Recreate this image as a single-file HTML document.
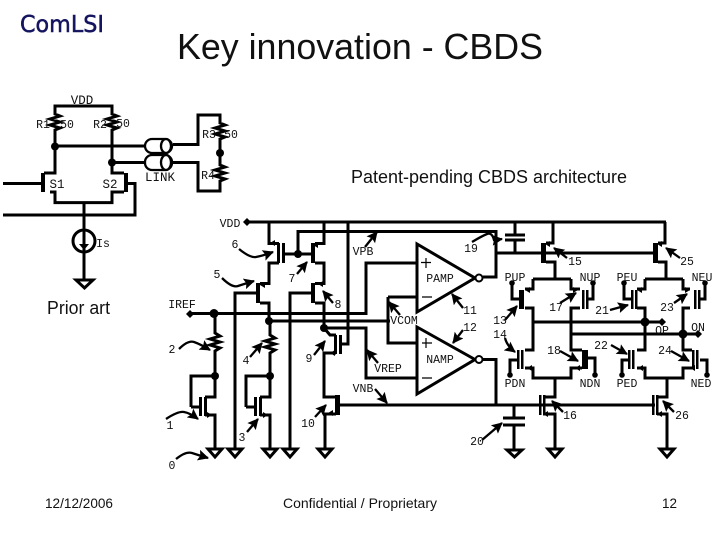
<!DOCTYPE html>
<html><head><meta charset="utf-8"><style>
html,body{margin:0;padding:0;background:#fff}
svg{display:block}
.w{fill:none;stroke:#000;stroke-width:3;stroke-linejoin:miter}
.a{fill:none;stroke:#000;stroke-width:2.300;marker-end:url(#h)}
.t{font:500 11.5px "Liberation Mono",monospace;fill:#111;text-anchor:middle}
.s{font:12.5px "Liberation Mono",monospace;fill:#111;text-anchor:middle}
.h{font-family:"Liberation Sans",sans-serif;fill:#111}
</style></head><body>
<svg width="720" height="540" viewBox="0 0 720 540" xmlns="http://www.w3.org/2000/svg">
<defs><marker id="h" markerUnits="userSpaceOnUse" markerWidth="13" markerHeight="12" refX="10" refY="5.500" orient="auto"><path d="M0 0L11 5.500L0 11L2 5.500z" fill="#000"/></marker></defs>
<rect width="720" height="540" fill="#fff"/>
<text x="20" y="32" style="font:23px 'DejaVu Sans',sans-serif;fill:#14145f;stroke:#14145f;stroke-width:.5" textLength="84" lengthAdjust="spacingAndGlyphs">ComLSI</text>
<text class="h" x="177" y="59" font-size="36" textLength="366" lengthAdjust="spacingAndGlyphs">Key innovation - CBDS</text>
<text class="h" x="351" y="183" font-size="18" textLength="276" lengthAdjust="spacingAndGlyphs">Patent-pending CBDS architecture</text>
<text class="h" x="47" y="314" font-size="18" textLength="63" lengthAdjust="spacingAndGlyphs">Prior art</text>
<text class="h" x="45" y="508" font-size="14" textLength="68" lengthAdjust="spacingAndGlyphs">12/12/2006</text>
<text class="h" x="283" y="508" font-size="14" textLength="154" lengthAdjust="spacingAndGlyphs">Confidential / Proprietary</text>
<text class="h" x="662" y="508" font-size="14" textLength="15" lengthAdjust="spacingAndGlyphs">12</text>

<!-- prior art -->
<path class="w" d="M55 146V130l5-2-10-3 10-3-10-3 10-3-5-2V106H112V114l5 2-10 3 10 3-10 3 10 3-5 2V173H124M55 146V173H44M3 183.500H41M50 192H55V202.600H112V192H124M135 183.500H128M135 182V215H3M84 202.600V280M173 144.500H198V115H220V123l5 2-10 3 10 3-10 3 10 3-5 2V165l5 2-10 3 10 3-10 3 10 3-5 2V191H198V162.500H173M55 146H145M112 162.500H145"/>
<rect x="41" y="173" width="4" height="19"/><rect x="124" y="173" width="4" height="19"/>
<circle cx="55" cy="146.500" r="4"/><circle cx="112" cy="162.500" r="4"/><circle cx="220" cy="153" r="4"/>
<g fill="#fff" stroke="#000" stroke-width="2.300"><rect x="145" y="139" width="27" height="14" rx="7"/><rect x="145" y="155" width="27" height="15" rx="7"/><ellipse cx="166" cy="146" rx="5" ry="7"/><ellipse cx="166" cy="162.500" rx="5" ry="7.500"/></g>
<circle cx="84" cy="241" r="11" class="w"/>
<path d="M79 244h10l-5 6z"/><path d="M76 280H93L84.500 288z" class="w" fill="none"/>
<text class="s" x="82" y="104">VDD</text><text class="t" x="43" y="128">R1</text><text class="t" x="67" y="128">50</text><text class="t" x="100" y="128">R2</text><text class="t" x="123" y="127">50</text><text class="t" x="209" y="138">R3</text><text class="t" x="231" y="138">50</text><text class="t" x="208" y="179">R4</text><text class="s" x="57" y="188">S1</text><text class="s" x="110" y="188">S2</text><text class="s" x="160" y="181">LINK</text><text class="t" x="103" y="247">Is</text>

<!-- bias rails -->
<path class="w" d="M247 222H666"/><path d="M243 222l4-4 4 4-4 4z"/><text class="t" x="230" y="227">VDD</text>
<path class="w" d="M269 222V243.500H279M279 263H269V283.500H260M260 303H269V321M324 222V243.500H315M311 254H283M315 263H324V283.500H315M315 303H324V328M311 293H290V448M256 293H235V448M348 222V344H340M298 254V231.500H496V277H483M496 253H541M515 222V235M515 240V253M505 235H525M505 240H525"/>
<rect x="277" y="243" width="3" height="20"/><rect x="282" y="243" width="3" height="20"/><rect x="311" y="243" width="4" height="20"/><rect x="256" y="283" width="4" height="20"/><rect x="311" y="283" width="4" height="20"/>
<circle cx="298" cy="254" r="4"/>
<path class="w" d="M190 313.500H366V263H417M269 321H390M388 297H417M388 297V343H417M324 328H366V378H417"/>
<path d="M186 314l4-4 4 4-4 4z"/><circle cx="214" cy="313.500" r="4.500"/><circle cx="269" cy="321" r="4"/><circle cx="324" cy="328" r="4"/>
<!-- left legs -->
<path class="w" d="M215 314V333l5 3-10 3 10 3-10 3 10 3-5 3V397H205M205 415H215V448M191 407V376H215M191 407H200M270 321V335l5 3-10 3 10 3-10 3 10 3-5 3V397H260M260 415H270V448M246 407V376H270M246 407H255"/>
<rect x="199" y="397" width="3" height="19"/><rect x="204" y="397" width="3" height="19"/><rect x="254" y="397" width="3" height="19"/><rect x="259" y="397" width="3" height="19"/>
<circle cx="215" cy="376" r="4"/><circle cx="270" cy="376" r="4"/>
<path class="w" d="M324 328L330 335H336M336 353H324V397H336M336 414H325V448"/>
<rect x="334" y="335" width="3" height="19"/><rect x="339" y="335" width="3" height="19"/><rect x="335" y="395" width="5" height="20"/>
<path class="w" d="M340 405H540"/>
<!-- amps -->
<path class="w" d="M417 244V312L475 278zM417 327V394L475 359.500z" fill="#fff"/>
<circle cx="479" cy="278" r="3.500" fill="#fff" stroke="#000" stroke-width="2"/><circle cx="479" cy="359.500" r="3.500" fill="#fff" stroke="#000" stroke-width="2"/>
<path class="w" d="M483 359.500H496V405"/>
<path d="M421 262.500h10M426 258v10M422 297h10M422 343h10M426 338v10M422 378h10" stroke="#000" stroke-width="1.200" fill="none"/>
<text class="t" x="440" y="282">PAMP</text><text class="t" x="440" y="363">NAMP</text>
<!-- ground + cap -->
<path class="w" d="M514 405V418M503 418H525M503 425H525M514 425V450"/>
<path class="w" d="M208 449H222L215 457zM228 449H242L235 457zM263 449H277L270 457zM283 449H297L290 457zM318 449H332L325 457zM507 450H522L514.500 457zM548 449H562L555 457zM660 449H674L667 457z"/>
<!-- output stage -->
<path class="w" d="M553 222V243H546M546 262H555V279M496 253H653M533 279H571M533 279V289H525M525 308H533V350H525M519 299H512V284M571 279V289H580M580 308H571V350H582M587 299H593V284M525 368H533V378H571V368H582M588 358H595V375M555 378V397H543M543 414H555V448M533 322H662M571 334H698"/>
<rect x="541" y="243" width="5" height="20"/><rect x="519" y="290" width="5" height="19"/><rect x="582" y="290" width="2.500" height="19"/><rect x="586" y="290" width="2.500" height="19"/><rect x="517" y="350" width="2.500" height="19"/><rect x="521" y="350" width="2.500" height="19"/><path class="w" d="M510 375V360H517"/><rect x="582" y="350" width="6" height="19"/><rect x="539" y="395" width="2.500" height="20"/><rect x="543" y="395" width="2.500" height="20"/>
<path class="w" d="M665 222V243H658M658 262H666V279M645 279H683M645 279V289H637M637 308H645V350H637M632 299H624V284M683 279V289H690M690 308H683V350H692M698 299H705V284M637 368H645V378H683V368H692M700 360H707V375M667 378V397H657M657 414H667V448M540 405H655"/>
<rect x="653" y="243" width="5" height="20"/><rect x="631" y="290" width="2.500" height="19"/><rect x="635" y="290" width="2.500" height="19"/><rect x="694" y="290" width="2.500" height="19"/><rect x="698" y="290" width="2.500" height="19"/><rect x="628" y="350" width="2.500" height="19"/><rect x="632" y="350" width="2.500" height="19"/><rect x="692" y="350" width="2.500" height="19"/><rect x="696" y="350" width="2.500" height="19"/><rect x="652" y="395" width="2.500" height="20"/><rect x="656" y="395" width="2.500" height="20"/>
<path class="w" d="M629 360H622V375"/>
<circle cx="512" cy="283" r="2.800"/><circle cx="593" cy="283" r="2.800"/><circle cx="624" cy="283" r="2.800"/><circle cx="705" cy="283" r="2.800"/><circle cx="510" cy="375" r="2.800"/><circle cx="595" cy="375" r="2.800"/><circle cx="622" cy="375" r="2.800"/><circle cx="707" cy="375" r="2.800"/>
<circle cx="645" cy="322" r="4.500"/><circle cx="683" cy="334" r="4.500"/><path d="M658 322l4-4 4 4-4 4zM694 334l4-4 4 4-4 4z"/>
<!-- device arrows -->
<path d="M270 243l5-3v6zM313 245l5-3v6zM260 285l5-3v6zM318 284l5-3v6zM212 415l-5-3v6zM268 415l-5-3v6zM330 353l5-3v6zM328 413l5-3v6zM545 244l5-3v6zM525 290l5-3v6zM578 290l-5-3v6zM527 368l5 3v-6zM575 368l5-3v6zM543 414l5 3v-6zM657 244l5-3v6zM637 290l5-3v6zM690 290l-5-3v6zM638 368l5 3v-6zM690 368l5-3v6zM657 414l5 3v-6z"/>
<!-- pointers -->
<path class="a" d="M179 349Q188 340 194 342T210 350"/><path class="a" d="M166 419Q178 411 184 412T198 419"/><path class="a" d="M176 459Q186 451 192 453T208 458"/>
<path class="a" d="M222 278Q232 288 238 286T254 281"/><path class="a" d="M239 249Q250 258 256 257T273 252"/>
<path class="a" d="M250 357L262 343"/><path class="a" d="M247 432L258 419"/><path class="a" d="M314 355L325 341"/><path class="a" d="M315 417L326 405"/><path class="a" d="M333 303L323 291"/><path class="a" d="M297 274L307 262"/>
<path class="a" d="M378 363L367 350"/><path class="a" d="M375 389L387 403"/><path class="a" d="M400 315L389 302"/><path class="a" d="M365 247L377 232"/>
<path class="a" d="M472 242Q482 236 487 234T494 240L502 239"/>
<path class="a" d="M463 308L452 294"/><path class="a" d="M463 330L453 343"/><path class="a" d="M505 320L517 306"/><path class="a" d="M505 338Q507 346 515 352"/><path class="a" d="M482 440L502 423"/>
<path class="a" d="M567 258L554 248"/><path class="a" d="M680 258L666 248"/><path class="a" d="M560 303L576 293"/><path class="a" d="M610 310L628 305"/><path class="a" d="M674 303L687 294"/><path class="a" d="M560 351L578 361"/><path class="a" d="M611 345L627 354"/><path class="a" d="M671 351L689 361"/><path class="a" d="M563 412L552 401"/><path class="a" d="M674 412L663 401"/>
<!-- labels -->
<g>
<text class="t" x="217" y="278">5</text><text class="t" x="235" y="248">6</text><text class="t" x="292" y="282">7</text><text class="t" x="338" y="308">8</text><text class="t" x="172" y="353">2</text><text class="t" x="246" y="364">4</text><text class="t" x="309" y="362">9</text><text class="t" x="170" y="429">1</text><text class="t" x="242" y="441">3</text><text class="t" x="308" y="427">10</text><text class="t" x="172" y="469">0</text>
<text class="t" x="471" y="252">19</text><text class="t" x="470" y="314">11</text><text class="t" x="470" y="331">12</text><text class="t" x="500" y="324">13</text><text class="t" x="500" y="338">14</text><text class="t" x="477" y="445">20</text><text class="t" x="575" y="265">15</text><text class="t" x="687" y="265">25</text><text class="t" x="556" y="311">17</text><text class="t" x="602" y="314">21</text><text class="t" x="667" y="311">23</text><text class="t" x="554" y="354">18</text><text class="t" x="601" y="349">22</text><text class="t" x="665" y="354">24</text><text class="t" x="570" y="419">16</text><text class="t" x="682" y="419">26</text>
<text class="t" x="182" y="308">IREF</text><text class="t" x="363" y="255">VPB</text><text class="t" x="404" y="324">VCOM</text><text class="t" x="388" y="372">VREP</text><text class="t" x="363" y="392">VNB</text>
<text class="t" x="515" y="281">PUP</text><text class="t" x="590" y="281">NUP</text><text class="t" x="627" y="281">PEU</text><text class="t" x="702" y="281">NEU</text><text class="t" x="662" y="334">OP</text><text class="t" x="698" y="331">ON</text><text class="t" x="515" y="387">PDN</text><text class="t" x="590" y="387">NDN</text><text class="t" x="627" y="387">PED</text><text class="t" x="701" y="387">NED</text>
</g>
</svg>
</body></html>
